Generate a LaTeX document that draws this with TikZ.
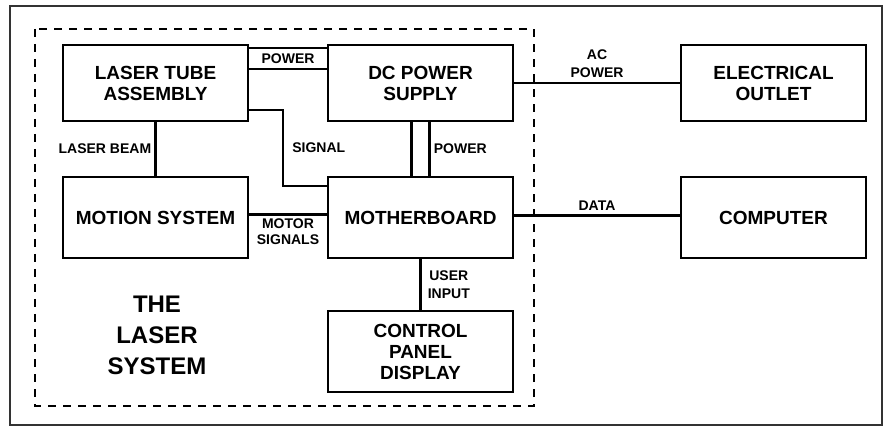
\documentclass[tikz,border=0pt]{standalone}
\usepackage{fontspec}
\setmainfont{Liberation Sans}
\usetikzlibrary{positioning}

\begin{document}
\begin{tikzpicture}[
  x=1pt,y=-1pt,
  node distance=56pt and 80pt,
  box/.style={rectangle,draw=black,line width=2.8pt,outer sep=0pt,
    minimum width=185pt,minimum height=81pt,
    font=\fontsize{19}{21}\selectfont\bfseries,align=center,inner sep=2pt},
  toprow/.style={minimum height=76pt},
  wire/.style={black,line width=2.6pt},
  lbl/.style={font=\fontsize{14}{16}\selectfont\bfseries,align=center,inner sep=3pt},
  sysname/.style={font=\fontsize{24}{31}\selectfont\bfseries,align=center},
]
  \useasboundingbox (0,0) rectangle (883,427);
  \draw[line width=2pt,black!80] (10,6) rectangle (882,425);
  \draw[line width=2.8pt,dash pattern=on 8pt off 7pt] (35,29) rectangle (534,406);

  \node[box,toprow] (laser) at (155.5,83) {LASER TUBE\\ASSEMBLY};
  \node[box,toprow,right=of laser] (dcpower) {DC POWER\\SUPPLY};
  \node[box,below=of laser] (motion) {MOTION SYSTEM};
  \node[box,below=of dcpower] (mboard) {MOTHERBOARD};
  \node[box,below=53pt of mboard] (panel) {CONTROL\\PANEL\\DISPLAY};
  \node[box,toprow,right=168pt of dcpower] (outlet) {ELECTRICAL\\OUTLET};
  \node[box,right=168pt of mboard] (computer) {COMPUTER};
  \node[sysname] (title) at (157,335) {THE\\LASER\\SYSTEM};

  \draw[wire] ([yshift=-3pt]laser.north east) -- ([yshift=-3pt]dcpower.north west)
    node[lbl,midway,yshift=-10.5pt] {POWER};
  \draw[wire] ([yshift=-24pt]laser.north east) -- ([yshift=-24pt]dcpower.north west);
  \draw[wire] (laser) -- (motion) node[lbl,midway,left] {LASER BEAM};
  \draw[wire] ([yshift=11pt]laser.south east) -- ++(35,0) |- ([yshift=-9pt]mboard.north west)
    node[lbl,pos=0.25,right,xshift=5pt] {SIGNAL};
  \draw[wire] ([xshift=-9pt]dcpower.south) -- ([xshift=-9pt]mboard.north);
  \draw[wire] ([xshift=9pt]dcpower.south) -- ([xshift=9pt]mboard.north)
    node[lbl,midway,right] {POWER};
  \draw[wire] ([yshift=3pt]motion.east) -- ([yshift=3pt]mboard.west)
    node[lbl,midway,below] {MOTOR\\SIGNALS};
  \draw[wire] (mboard) -- (panel) node[lbl,midway,right,xshift=3pt] {USER\\[2pt]INPUT};
  \draw[wire] (dcpower) -- (outlet) node[lbl,midway,above,inner sep=4pt] {AC\\[2pt]POWER};
  \draw[wire] ([yshift=2pt]mboard.east) -- ([yshift=2pt]computer.west)
    node[lbl,midway,above,inner sep=4pt] {DATA};
\end{tikzpicture}
\end{document}
